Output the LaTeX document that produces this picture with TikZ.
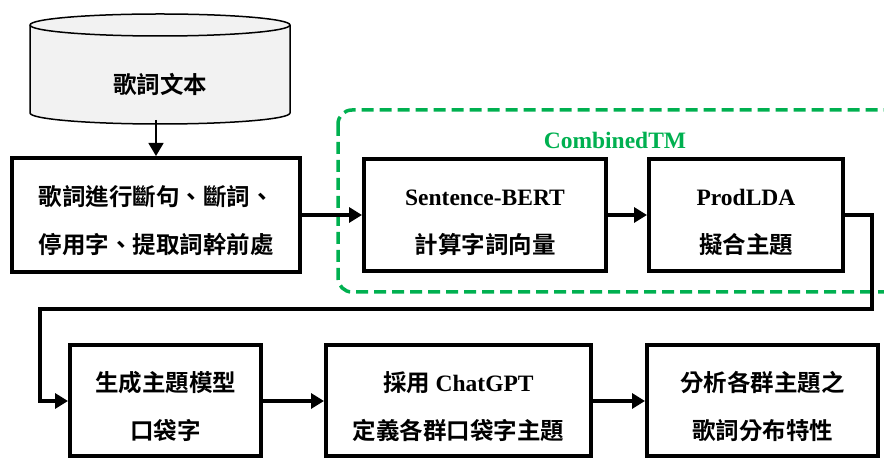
\documentclass[tikz,border=0pt]{standalone}
\usepackage{fontspec}
\setmainfont{Liberation Serif}
\newfontfamily\cjk{Noto Sans CJK TC}[BoldFont={Noto Sans CJK TC Bold}]
\usetikzlibrary{arrows.meta}
\definecolor{tmgreen}{HTML}{00B050}
\definecolor{dbgray}{HTML}{F2F2F2}
\newcommand{\topgap}{\rule{0pt}{32pt}}
\begin{document}
\begin{tikzpicture}[x=1pt, y=1pt,
    stepbox/.style={draw, line width=4pt, minimum height=112pt, align=center, font=\fontsize{23.5}{48}\selectfont\cjk\bfseries},
    flow/.style={line width=4pt, -{Triangle[length=13pt, width=15pt]}}]
    \useasboundingbox (0, 0) rectangle (884, 460);
    \draw[line width=1.5pt, fill=dbgray] (30, 435) -- (30, 347) arc[start angle=180, end angle=360, x radius=130, y radius=11] -- (290, 435) arc[start angle=0, end angle=180, x radius=130, y radius=11] -- cycle;
    \draw[line width=1.5pt] (30, 435) arc[start angle=180, end angle=360, x radius=130, y radius=11];
    \node[font=\fontsize{23.5}{28}\selectfont\cjk\bfseries] (lyrics) at (160, 376) {歌詞文本};
    \coordinate (lyricsbottom) at (156, 340);
    \draw[tmgreen, line width=3.5pt, dash pattern=on 12pt off 6pt, rounded corners=14pt] (338, 350) rectangle (910, 168);
    \node[font=\fontsize{23.5}{28}\selectfont\bfseries, text=tmgreen] (combined) at (615, 320) {CombinedTM};
    \node[stepbox, minimum width=288pt, minimum height=114pt] (prep) at (156, 245) {\topgap 歌詞進行斷句、斷詞、\\停用字、提取詞幹前處};
    \node[stepbox, minimum width=242pt] (sbert) at (485, 245) {\topgap\textrm{Sentence-BERT}\\計算字詞向量};
    \node[stepbox, minimum width=194pt] (prodlda) at (746, 245) {\topgap\textrm{ProdLDA}\\擬合主題};
    \node[stepbox, minimum width=191pt, minimum height=111pt] (bowtopic) at (165.5, 59) {\topgap 生成主題模型\\口袋字};
    \node[stepbox, minimum width=265pt, minimum height=111pt] (chatgpt) at (458.5, 59) {\topgap 採用 \textrm{ChatGPT}\\定義各群口袋字主題};
    \node[stepbox, minimum width=231pt, minimum height=111pt] (analysis) at (762.5, 59) {\topgap 分析各群主題之\\歌詞分布特性};
    \coordinate (turnR) at (872, 151);
    \coordinate (turnL) at (40, 151);
    \draw[line width=1.5pt, -{Triangle[length=13pt, width=15pt]}] (lyricsbottom) -- (prep.north);
    \draw[flow] (prep.east) -- (sbert.west);
    \draw[flow] (sbert.east) -- (prodlda.west);
    \draw[flow] (prodlda.east) -| (turnR) -- (turnL) |- (bowtopic.west);
    \draw[flow] (bowtopic.east) -- (chatgpt.west);
    \draw[flow] (chatgpt.east) -- (analysis.west);
\end{tikzpicture}
\end{document}
